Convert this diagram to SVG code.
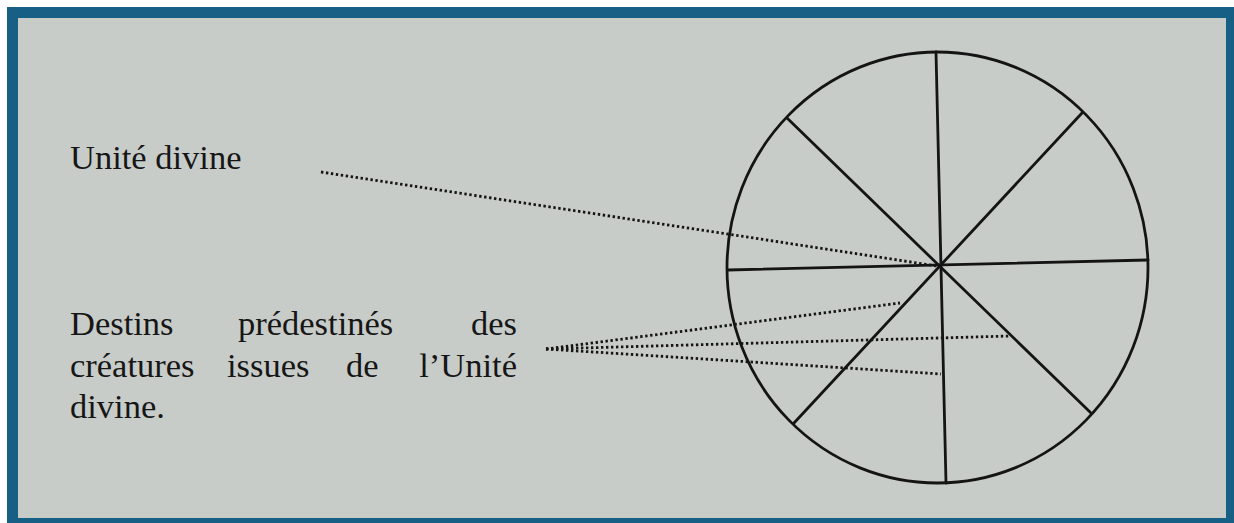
<svg xmlns="http://www.w3.org/2000/svg" width="1234" height="523" viewBox="0 0 1234 523">
<style>
.lbl{font-family:"Liberation Serif","Times New Roman",serif;font-size:34.5px;fill:#161616}
.spoke{stroke:#141414;stroke-width:2.8;fill:none;stroke-linecap:round}
.dot{stroke:#141414;stroke-width:2.8;fill:none;stroke-dasharray:2.4 2.6}
</style>
<rect x="0" y="0" width="1234" height="523" fill="#ffffff"/>
<rect x="7" y="7" width="1227" height="516" fill="#175f84"/>
<rect x="18" y="18" width="1208" height="500" fill="#c8ccc9"/>
<g id="wheel">
<ellipse cx="937.5" cy="267.5" rx="210.5" ry="215.5" class="spoke"/>
<line x1="936" y1="52" x2="946" y2="483" class="spoke"/>
<line x1="728" y1="270" x2="1148" y2="260" class="spoke"/>
<line x1="787" y1="118" x2="1091" y2="413" class="spoke"/>
<line x1="1082" y1="113" x2="794" y2="423" class="spoke"/>
</g>
<g id="label-unite">
<text class="lbl" x="70" y="169">Unité divine</text>
</g>
<g id="label-destins">
<text class="lbl" x="70" y="335">Destins</text>
<text class="lbl" x="238" y="335">prédestinés</text>
<text class="lbl" x="517" y="335" text-anchor="end">des</text>
<text class="lbl" x="70" y="377">créatures</text>
<text class="lbl" x="227" y="377">issues</text>
<text class="lbl" x="346" y="377">de</text>
<text class="lbl" x="517" y="377" text-anchor="end">l’Unité</text>
<text class="lbl" x="70" y="418">divine.</text>
</g>
<g id="connectors">
<line x1="321" y1="172" x2="937" y2="266" class="dot"/>
<line x1="546" y1="349" x2="900" y2="303" class="dot"/>
<line x1="546" y1="349" x2="1010" y2="336" class="dot"/>
<line x1="546" y1="349" x2="941" y2="374" class="dot"/>
</g>
</svg>
